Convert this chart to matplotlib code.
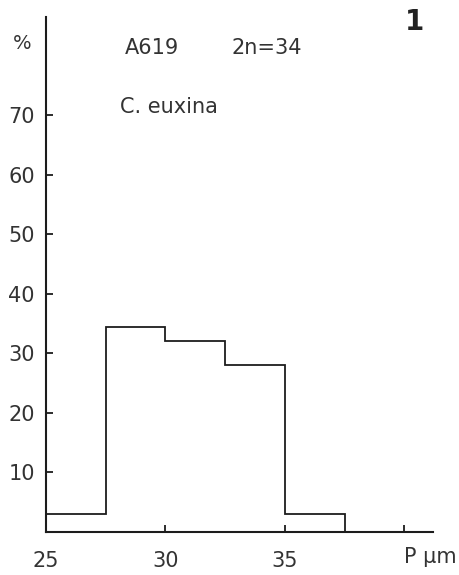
import matplotlib
matplotlib.use("Agg")
import matplotlib.pyplot as plt

# histogram data
bin_edges = [25, 27.5, 30, 32.5, 35, 37.5, 40]
percent = [3, 34.5, 32, 28, 3, 0]

x_ticks = [25, 30, 35, 40]
x_labels = ["25", "30", "35", ""]
y_ticks = [10, 20, 30, 40, 50, 60, 70]
y_labels = ["10", "20", "30", "40", "50", "60", "70"]

ink = "#1c1c1c"
plt.rcParams["font.family"] = ["DejaVu Sans"]

fig = plt.figure(figsize=(4.6, 5.75), dpi=100)
ax = fig.add_axes([0.1, 0.075, 0.841, 0.895])

ax.stairs(percent, bin_edges, color=ink, linewidth=1.3, baseline=0)

ax.set_xlim(25, 41.2)
ax.set_ylim(0, 86.5)
ax.set_xticks(x_ticks)
ax.set_xticklabels(x_labels)
ax.set_yticks(y_ticks)
ax.set_yticklabels(y_labels)

for side in ["top", "right"]:
    ax.spines[side].set_visible(False)
for side in ["left", "bottom"]:
    ax.spines[side].set_color(ink)
    ax.spines[side].set_linewidth(1.5)

ax.tick_params(axis="both", direction="in", length=5, width=1.3, color=ink,
               labelsize=15, labelcolor="#333333")
ax.tick_params(axis="y", pad=8)
ax.tick_params(axis="x", pad=14)

txt = dict(color="#333333", va="center")
fig.text(0.048, 0.925, "%", fontsize=14, ha="center", **txt)
fig.text(0.272, 0.917, "A619", fontsize=15, ha="left", **txt)
fig.text(0.504, 0.917, "2n=34", fontsize=15, ha="left", **txt)
fig.text(0.261, 0.814, "C. euxina", fontsize=15, ha="left", **txt)
fig.text(0.902, 0.962, "1", fontsize=20, fontweight="bold", color="#222222",
         ha="center", va="center")
fig.text(0.935, 0.031, "P μm", fontsize=15, ha="center", **txt)

fig.savefig("out.png", dpi=100, facecolor="white")
